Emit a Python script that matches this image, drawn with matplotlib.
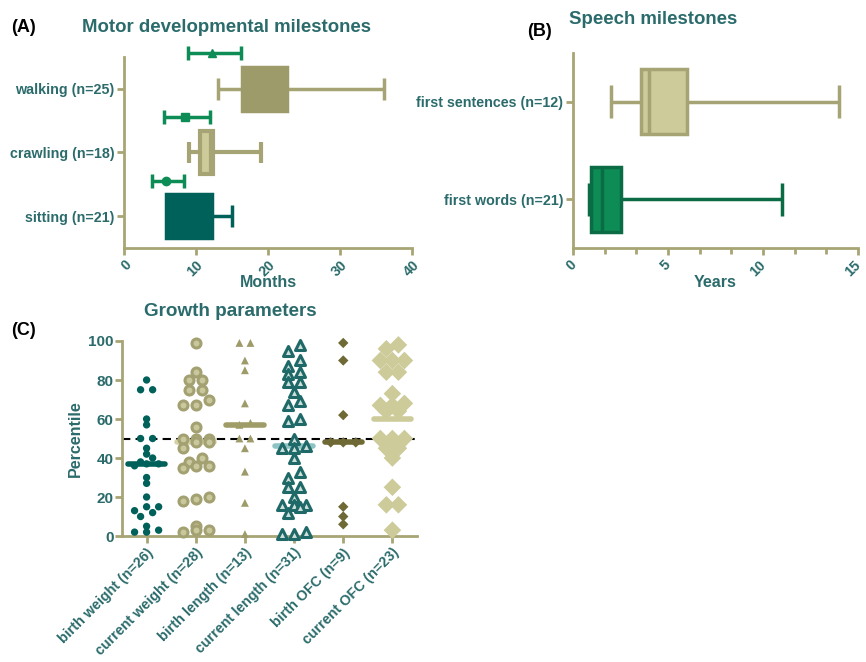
import numpy as np
import matplotlib
matplotlib.use('Agg')
import matplotlib.pyplot as plt
from matplotlib.transforms import ScaledTranslation

plt.rcParams['font.family'] = ['Liberation Sans', 'DejaVu Sans']
plt.rcParams['font.weight'] = 'bold'

# ---------------- data ----------------
# Panel A: motor milestones (months)
motor_cats = ['sitting (n=21)', 'crawling (n=18)', 'walking (n=25)']
motor_q1 = [5.8, 10.6, 16.4]
motor_med = [9.0, 12.1, 19.5]
motor_q3 = [12.2, 12.4, 22.7]
motor_lo = [5.8, 9.0, 13.0]
motor_hi = [15.0, 19.0, 36.1]
norm_mean = [5.9, 8.5, 12.2]
norm_lo = [3.9, 5.6, 8.9]
norm_hi = [8.3, 12.0, 16.2]

# Panel B: speech milestones (years)
speech_cats = ['first words (n=21)', 'first sentences (n=12)']
speech_q1 = [0.95, 3.6]
speech_med = [1.5, 4.0]
speech_q3 = [2.5, 6.0]
speech_lo = [0.85, 2.0]
speech_hi = [11.0, 14.0]

# Panel C: growth parameters (percentile)
growth_cats = ['birth weight (n=26)', 'current weight (n=28)', 'birth length (n=13)',
               'current length (n=31)', 'birth OFC (n=9)', 'current OFC (n=23)']
birth_weight = [80, 75, 75, 60, 57, 50, 50, 45, 42, 40, 38, 37, 37, 36, 30, 27, 20,
                15, 15, 13, 12, 10, 5, 3, 2, 2]
current_weight = [99, 84, 80, 80, 75, 75, 70, 67, 67, 56, 50, 50, 50, 48, 48, 45, 40,
                  38, 36, 36, 35, 20, 19, 18, 5, 3, 3, 2]
birth_length = [99, 99, 90, 85, 68, 58, 57, 50, 50, 45, 33, 17, 1]
current_length = [98, 95, 90, 87, 84, 83, 79, 79, 74, 69, 67, 60, 59, 50, 46, 45, 45,
                  40, 33, 30, 25, 25, 20, 16, 16, 16, 15, 12, 2, 1, 1]
birth_ofc = [99, 90, 62, 48, 48, 48, 15, 10, 6]
current_ofc = [98, 96, 90, 90, 90, 84, 84, 73, 68, 67, 67, 64, 64, 50, 50, 50, 45, 45,
               40, 25, 16, 16, 3]
growth_medians = [37, 48, 57, 46, 48, 60]
reference_line = 50

# ---------------- style ----------------
TXT = '#2b6b6b'
AX = '#a8a575'
TEAL = '#00605a'
OLIVE = '#9d9b69'
OLIVE_L = '#a6a374'
KHAKI_L = '#cccb99'
GREEN = '#0d8c55'
GREEN_D = '#0b6b45'
OFC_D = '#6f6a35'
TICKFS = 10.3

fig = plt.figure(figsize=(8.66, 6.62), dpi=100)


def style_axes(ax):
    for s in ['top', 'right']:
        ax.spines[s].set_visible(False)
    for s in ['left', 'bottom']:
        ax.spines[s].set_color(AX)
        ax.spines[s].set_linewidth(2)
    ax.tick_params(colors=AX, labelcolor=TXT, width=2, length=5, labelsize=TICKFS, pad=2)
    for lab in ax.get_xticklabels() + ax.get_yticklabels():
        lab.set_fontweight('bold')


def draw_box(ax, y, q1, med, q3, lo, hi, h, face, edge, medc, whisc, lw=2.5, capfrac=0.5):
    ax.barh(y, q3 - q1, left=q1, height=h, color=face, edgecolor=edge, linewidth=lw, zorder=3)
    ax.vlines(med, y - h / 2, y + h / 2, color=medc, linewidth=lw, zorder=4)
    if lo < q1:
        ax.hlines(y, lo, q1, color=whisc, linewidth=lw, zorder=2)
        ax.vlines(lo, y - h * capfrac / 2, y + h * capfrac / 2, color=whisc, linewidth=lw, zorder=2)
    if hi > q3:
        ax.hlines(y, q3, hi, color=whisc, linewidth=lw, zorder=2)
        ax.vlines(hi, y - h * capfrac / 2, y + h * capfrac / 2, color=whisc, linewidth=lw, zorder=2)


# ---------------- Panel A ----------------
axA = fig.add_axes([0.1432, 0.6254, 0.3326, 0.2885])
posA = np.arange(len(motor_cats))
faces = [TEAL, KHAKI_L, OLIVE]
edges = [TEAL, OLIVE_L, OLIVE]
meds = [TEAL, OLIVE_L, OLIVE]
whis = [TEAL, OLIVE_L, OLIVE_L]
for i in range(len(motor_cats)):
    draw_box(axA, posA[i], motor_q1[i], motor_med[i], motor_q3[i], motor_lo[i], motor_hi[i],
             0.69, faces[i], edges[i], meds[i], whis[i], lw=2.5 if i != 1 else 3)
markers = ['o', 's', '^']
for i in range(len(motor_cats)):
    yy = posA[i] + 0.56
    axA.errorbar(norm_mean[i], yy, xerr=[[norm_mean[i] - norm_lo[i]], [norm_hi[i] - norm_mean[i]]],
                 fmt=markers[i], color=GREEN, ms=6, elinewidth=2.5, capsize=5, capthick=2.5,
                 clip_on=False, zorder=5)
axA.set_xlim(0, 40)
axA.set_ylim(-0.5, 2.5)
axA.set_xticks([0, 10, 20, 30, 40])
axA.set_yticks(posA)
axA.set_yticklabels(motor_cats)
style_axes(axA)
plt.setp(axA.get_xticklabels(), rotation=45, ha='right', va='top', rotation_mode='anchor')
axA.set_xlabel('Months', color=TXT, fontsize=11.5, fontweight='bold', labelpad=-3)

# ---------------- Panel B ----------------
axB = fig.add_axes([0.6617, 0.6254, 0.329, 0.2946])
posB = np.arange(len(speech_cats))
bfaces = [GREEN, KHAKI_L]
bedges = [GREEN_D, OLIVE_L]
for i in range(len(speech_cats)):
    draw_box(axB, posB[i], speech_q1[i], speech_med[i], speech_q3[i], speech_lo[i], speech_hi[i],
             0.67, bfaces[i], bedges[i], bedges[i], bedges[i], lw=2.5)
axB.set_xlim(0, 15)
axB.set_ylim(-0.5, 1.5)
axB.set_xticks([0, 5, 10, 15])
axB.set_xticks(np.arange(0, 15.01, 5 / 3), minor=True)
axB.set_yticks(posB)
axB.set_yticklabels(speech_cats)
style_axes(axB)
axB.tick_params(axis='x', which='minor', colors=AX, width=2, length=4)
shift = ScaledTranslation(-3 / 72, 0, fig.dpi_scale_trans)
for lab in axB.get_xticklabels():
    lab.set_transform(lab.get_transform() + shift)
plt.setp(axB.get_xticklabels(), rotation=45, ha='right', va='top', rotation_mode='anchor')
axB.set_xlabel('Years', color=TXT, fontsize=11.5, fontweight='bold', labelpad=-3)

# ---------------- Panel C ----------------
axC = fig.add_axes([0.1409, 0.1903, 0.3406, 0.2946])
series = [birth_weight, current_weight, birth_length, current_length, birth_ofc, current_ofc]
px_per_x = 49.0


def swarm(values, spacing_px, bin_units, max_row=3):
    vals = np.asarray(values, float)
    order = np.argsort(vals, kind='stable')
    offs = np.zeros(len(vals))
    rows = []
    cur = [order[0]]
    for idx in order[1:]:
        if vals[idx] - vals[cur[0]] < bin_units and len(cur) < max_row:
            cur.append(idx)
        else:
            rows.append(cur)
            cur = [idx]
    rows.append(cur)
    for r in rows:
        n = len(r)
        for k, idx in enumerate(r):
            offs[idx] = (k - (n - 1) / 2) * spacing_px / px_per_x
    return offs

styles = [
    dict(marker='o', s=28, c=TEAL, edgecolors='none'),
    dict(marker='o', s=42, c='#c9c89c', edgecolors='#a3a172', linewidths=2.2),
    dict(marker='^', s=32, c=OLIVE, edgecolors='none'),
    dict(marker='^', s=52, c='#cfe0dc', edgecolors='#1f6a68', linewidths=2.2),
    dict(marker='D', s=28, c=OFC_D, edgecolors='none'),
    dict(marker='D', s=80, c=KHAKI_L, edgecolors='none'),
]
spacings = [12, 13, 11, 12, 12.5, 12]
bins = [3.0, 3.5, 3.0, 4.0, 3.0, 3.0]
bar_colors = [TEAL, '#d3d2a6', '#9f9c67', '#8fc3c3', OFC_D, KHAKI_L]
bar_z = [6, 2, 6, 2, 2, 2]

axC.axhline(reference_line, color='black', linestyle=(0, (4, 2.5)), linewidth=1.5, zorder=1)
for i, vals in enumerate(series):
    offs = swarm(vals, spacings[i], bins[i])
    axC.scatter(i + offs, vals, zorder=4, clip_on=False, **styles[i])
    axC.hlines(growth_medians[i], i - 0.38, i + 0.38, color=bar_colors[i], linewidth=4,
               capstyle='round', zorder=bar_z[i])
axC.set_xlim(-0.5, 5.5)
axC.set_ylim(0, 100)
axC.set_yticks([0, 20, 40, 60, 80, 100])
axC.set_xticks(np.arange(len(growth_cats)))
axC.set_xticklabels(growth_cats)
style_axes(axC)
axC.tick_params(axis='y', labelsize=11, pad=1)
plt.setp(axC.get_xticklabels(), rotation=45, ha='right', va='top', rotation_mode='anchor')
axC.set_ylabel('Percentile', color=TXT, fontsize=11.5, fontweight='bold', labelpad=4)

# ---------------- titles ----------------
fig.text(0.261, 0.958, 'Motor developmental milestones', color=TXT, fontsize=13.4,
         fontweight='bold', ha='center', va='center')
fig.text(0.013, 0.958, '(A)', color='black', fontsize=13, fontweight='bold', ha='left', va='center')
fig.text(0.754, 0.970, 'Speech milestones', color=TXT, fontsize=13.4,
         fontweight='bold', ha='center', va='center')
fig.text(0.609, 0.952, '(B)', color='black', fontsize=13, fontweight='bold', ha='left', va='center')
fig.text(0.266, 0.529, 'Growth parameters', color=TXT, fontsize=13.6,
         fontweight='bold', ha='center', va='center')
fig.text(0.013, 0.5015, '(C)', color='black', fontsize=13, fontweight='bold', ha='left', va='center')

fig.savefig('out.png', dpi=100, facecolor='white')
